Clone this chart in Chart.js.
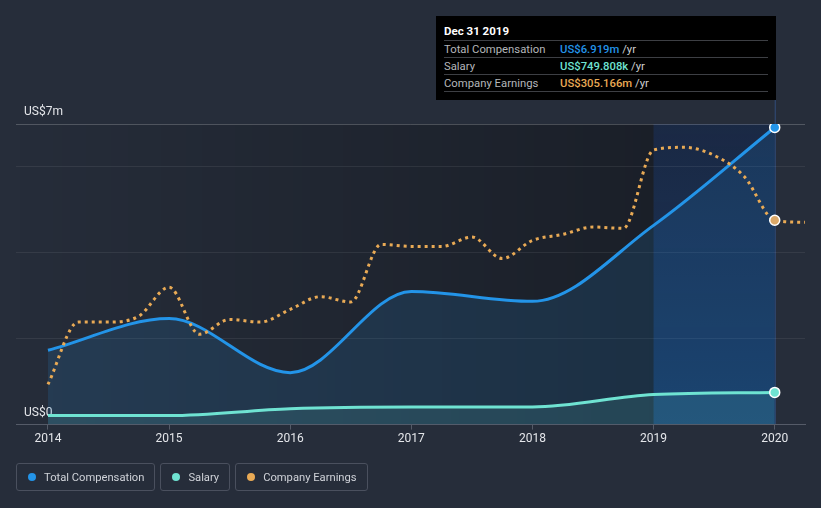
<!DOCTYPE html>
<html>
<head>
<meta charset="utf-8">
<script src="https://cdn.jsdelivr.net/npm/chart.js@4"></script>
<style>
  body { margin: 0; background: #262d3a; font-family: Roboto, sans-serif; }
  #wrap { position: relative; width: 821px; height: 508px; }
  #tip { position: absolute; left: 436px; top: 16px; width: 340px; height: 84px; background: #000; font-size: 11.3px; }
  #tip .t { position: absolute; left: 8px; top: 8px; color: #fff; font-weight: bold; font-size: 11.5px; }
  #tip .r { position: absolute; left: 8px; width: 324px; height: 16px; border-top: 1px solid #3d3f44; color: #b4b6ba; line-height: 17px; }
  #tip .r span.v { position: absolute; left: 116px; }
  #tip .r span.u { color: #d0d0d0; font-weight: normal; }
  #legend { position: absolute; left: 16px; top: 463px; display: flex; gap: 5px; }
  .lg { border: 1px solid #4a505e; border-radius: 3px; height: 26px; padding: 0 10px 0 11px; display: flex; align-items: center; color: #cfd2d8; font-size: 11.2px; }
  .lg i { display: inline-block; width: 8px; height: 8px; border-radius: 50%; margin-right: 8px; }
</style>
</head>
<body>
<div id="wrap">
  <canvas id="chart" width="821" height="508"></canvas>
  <div id="tip">
    <div class="t">Dec 31 2019</div>
    <div class="r" style="top:24px">Total Compensation<span class="v"><b style="color:#2394e8;font-weight:500">US$6.919m</b> <span class="u">/yr</span></span></div>
    <div class="r" style="top:41px">Salary<span class="v"><b style="color:#6fe3d2;font-weight:500">US$749.808k</b> <span class="u">/yr</span></span></div>
    <div class="r" style="top:58px">Company Earnings<span class="v"><b style="color:#e9aa55;font-weight:500">US$305.166m</b> <span class="u">/yr</span></span></div>
    <div class="r" style="top:75px;height:0"></div>
  </div>
  <div id="legend">
    <div class="lg"><i style="background:#2394e8"></i>Total Compensation</div>
    <div class="lg"><i style="background:#6fe3d2"></i>Salary</div>
    <div class="lg"><i style="background:#e9aa55"></i>Company Earnings</div>
  </div>
</div>
<script>
// dates as decimal years (2020 = Dec 31 2019)
const compDates = [2014, 2015, 2016, 2017, 2018, 2019, 2020];
const totalComp = [1.73, 2.47, 1.21, 3.10, 2.87, 4.64, 6.919];   // US$m
const salary = [0.21, 0.21, 0.37, 0.41, 0.41, 0.70, 0.7498];     // US$m

const earnDates = [2014, 2014.25, 2014.5, 2014.75, 2015, 2015.25, 2015.5, 2015.75,
  2016, 2016.25, 2016.5, 2016.75, 2017, 2017.25, 2017.5, 2017.75,
  2018, 2018.25, 2018.5, 2018.75, 2019, 2019.25, 2019.5, 2019.75, 2020, 2020.25];
const earnings = [60, 153, 153, 162, 205, 135, 157, 153,
  172, 191, 183, 269, 266, 266, 280, 248,
  275, 284, 295, 293, 410, 414, 402, 370, 305.166, 302];      // US$m

const xTicks = [2014, 2015, 2016, 2017, 2018, 2019, 2020];
const yTicks = [0, 2, 4, 6, 7];

const toXY = (xs, ys) => xs.map((x, i) => ({ x: x, y: ys[i] }));

const shade = {
  id: 'shade',
  beforeDraw(chart) {
    const { ctx, chartArea: a, scales } = chart;
    const x19 = scales.x.getPixelForValue(2019);
    const x20 = scales.x.getPixelForValue(2020);
    ctx.save();
    let g = ctx.createLinearGradient(a.left, 0, x19, 0);
    g.addColorStop(0, 'rgba(0,0,0,0)');
    g.addColorStop(1, 'rgba(0,0,0,0.3)');
    ctx.fillStyle = g;
    ctx.fillRect(a.left, a.top, x19 - a.left, a.bottom - a.top);
    ctx.fillStyle = 'rgba(0,0,0,0.3)';
    ctx.fillRect(x19, a.top, x20 - x19, a.bottom - a.top);
    g = ctx.createLinearGradient(0, a.top, 0, a.bottom);
    g.addColorStop(0, 'rgba(25,80,180,0.2)');
    g.addColorStop(1, 'rgba(25,100,190,0.35)');
    ctx.fillStyle = g;
    ctx.fillRect(x19, a.top, x20 - x19, a.bottom - a.top);
    ctx.strokeStyle = 'rgba(60,110,190,0.5)';
    ctx.lineWidth = 1;
    ctx.beginPath();
    ctx.moveTo(x20 + 0.5, 100);
    ctx.lineTo(x20 + 0.5, a.bottom);
    ctx.stroke();
    ctx.restore();
  }
};

const lastOnly = (idx, r) => ctx => ctx.dataIndex === idx ? r : 0;

new Chart(document.getElementById('chart'), {
  type: 'line',
  data: {
    datasets: [
      {
        label: 'Company Earnings',
        data: toXY(earnDates, earnings),
        yAxisID: 'yE',
        borderColor: '#e9aa55',
        borderWidth: 3,
        borderDash: [3, 4],
        fill: false,
        cubicInterpolationMode: 'monotone',
        pointRadius: lastOnly(24, 5),
        pointBackgroundColor: '#dba868',
        pointBorderColor: '#fff',
        pointBorderWidth: 1.5,
        order: 1
      },
      {
        label: 'Salary',
        data: toXY(compDates, salary),
        borderColor: '#6fe3d2',
        borderWidth: 3,
        backgroundColor: 'rgba(111,227,210,0.12)',
        fill: 'origin',
        cubicInterpolationMode: 'monotone',
        pointRadius: lastOnly(6, 5),
        pointBackgroundColor: '#6fe3d2',
        pointBorderColor: '#fff',
        pointBorderWidth: 1.5,
        order: 2
      },
      {
        label: 'Total Compensation',
        data: toXY(compDates, totalComp),
        borderColor: '#2394e8',
        borderWidth: 3,
        backgroundColor: 'rgba(35,148,232,0.14)',
        fill: 'origin',
        cubicInterpolationMode: 'monotone',
        pointRadius: lastOnly(6, 5),
        pointBackgroundColor: '#2394e8',
        pointBorderColor: '#fff',
        pointBorderWidth: 1.5,
        order: 3
      }
    ]
  },
  options: {
    responsive: false,
    animation: false,
    layout: { padding: { left: 0, right: 16, top: 124, bottom: 60 } },
    plugins: { legend: { display: false }, tooltip: { enabled: false } },
    scales: {
      x: {
        type: 'linear',
        min: 2013.736,
        max: 2020.25,
        afterBuildTicks: s => { s.ticks = xTicks.map(v => ({ value: v })); },
        ticks: {
          color: '#e4e6ea',
          font: { family: 'Roboto', size: 12 },
          padding: 2,
          maxRotation: 0,
          callback: v => String(v)
        },
        grid: { display: true, drawOnChartArea: false, tickLength: 5, color: '#555b68' },
        border: { color: '#555b68' }
      },
      y: {
        min: 0,
        max: 7,
        afterBuildTicks: s => { s.ticks = yTicks.map(v => ({ value: v })); },
        ticks: {
          mirror: true,
          padding: 8,
          labelOffset: -12,
          color: '#e4e6ea',
          font: { family: 'Roboto', size: 12 },
          callback: v => v === 7 ? 'US$7m' : v === 0 ? 'US$0' : ''
        },
        grid: {
          drawTicks: false,
          color: c => c.tick.value === 7 ? 'rgba(255,255,255,0.2)' : c.tick.value === 0 ? 'rgba(0,0,0,0)' : 'rgba(255,255,255,0.07)'
        },
        border: { display: false }
      },
      yE: { display: false, min: 0, max: 448.8 }
    }
  },
  plugins: [shade]
});
</script>
</body>
</html>
